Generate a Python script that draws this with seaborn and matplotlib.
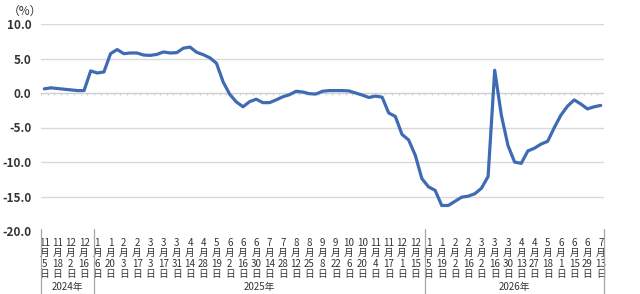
import matplotlib
matplotlib.use("Agg")
import matplotlib.pyplot as plt
from matplotlib.transforms import blended_transform_factory
import numpy as np
import pandas as pd
import seaborn as sns

# weekly values (%), one point per week
values = [0.6, 0.75, 0.65, 0.55, 0.45, 0.35, 0.35, 3.2, 2.9, 3.05,
          5.7, 6.3, 5.7, 5.8, 5.8, 5.5, 5.45, 5.6, 5.95, 5.8,
          5.85, 6.5, 6.65, 5.9, 5.55, 5.1, 4.3, 1.6, -0.2, -1.3,
          -2.0, -1.25, -0.9, -1.4, -1.4, -1.0, -0.55, -0.25, 0.25, 0.15,
          -0.1, -0.15, 0.25, 0.35, 0.35, 0.35, 0.3, 0.0, -0.3, -0.65,
          -0.45, -0.6, -2.9, -3.4, -6.0, -6.8, -9.0, -12.4, -13.6, -14.1,
          -16.3, -16.3, -15.7, -15.1, -14.95, -14.6, -13.8, -12.1, 3.3, -3.2,
          -7.6, -10.0, -10.2, -8.4, -8.0, -7.4, -7.0, -5.0, -3.2, -1.9,
          -1.0, -1.6, -2.3, -2.0, -1.8]

# labels shown on every second week
tick_labels = ["11/5", "11/18", "12/2", "12/16",
               "1/6", "1/20", "2/3", "2/17", "3/3", "3/17", "3/31", "4/14", "4/28",
               "5/19", "6/2", "6/16", "6/30", "7/14", "7/28", "8/12", "8/25", "9/8",
               "9/22", "10/6", "10/20", "11/4", "11/17", "12/1", "12/15",
               "1/5", "1/19", "2/2", "2/16", "3/2", "3/16", "3/30", "4/13", "4/27",
               "5/18", "6/1", "6/15", "6/29", "7/13"]
years = ["2024年", "2025年", "2026年"]
year_weeks = [8, 50, 27]  # number of weekly points in each year

df = pd.DataFrame({"week": np.arange(len(values)), "value": values})

sns.set_theme(style="white")
plt.rcParams["font.family"] = ["Noto Sans CJK JP", "DejaVu Sans"]

fig = plt.figure(figsize=(6.4, 2.94), dpi=100)
ax = fig.add_axes([41 / 640, 1 - 231 / 294, 563 / 640, 207 / 294])

for y in [10, 5, -5, -10, -15]:
    ax.axhline(y, color="#d9d9d9", lw=1, zorder=0)
ax.axhline(0, color="#d0d0d0", lw=1, zorder=0)
ax.vlines(np.arange(len(values) + 1) - 0.5, -0.35, 0, color="#d0d0d0", lw=0.8, zorder=0)

sns.lineplot(data=df, x="week", y="value", ax=ax, color="#3e6bb3", lw=2.3)

ax.set_xlim(-0.5, len(values) - 0.5)
ax.set_ylim(-20, 10)
ax.set_yticks([10, 5, 0, -5, -10, -15, -20])
ax.set_yticklabels([f"{v:.1f}" for v in [10, 5, 0, -5, -10, -15, -20]],
                   fontsize=8.5, fontweight="bold", color="#333333")
ax.tick_params(axis="y", length=0, pad=7)

xt = np.arange(0, len(values), 2)
ax.set_xticks(xt)
ax.set_xticklabels(["{}\n月\n{}\n日".format(*s.split("/")) for s in tick_labels],
                   fontsize=7, color="#333333", linespacing=1.05)
ax.tick_params(axis="x", length=0, pad=5)
ax.set_xlabel("")
ax.set_ylabel("")
for s in ax.spines.values():
    s.set_visible(False)

# year separators and year names
trans = blended_transform_factory(ax.transData, ax.transAxes)
edges = np.concatenate([[0], np.cumsum(year_weeks)]) - 0.5
for e in edges:
    ax.plot([e, e], [0.01, -0.31], color="#a6a6a6", lw=0.9, transform=trans, clip_on=False)
for name, a, b in zip(years, edges[:-1], edges[1:]):
    ax.text((a + b) / 2, -0.27, name, transform=trans, ha="center", va="center",
            fontsize=7, color="#333333")

fig.text(8 / 640, 1 - 11 / 294, "（%）", fontsize=8.5, color="#333333", va="center")

fig.savefig("out.png", dpi=100)
